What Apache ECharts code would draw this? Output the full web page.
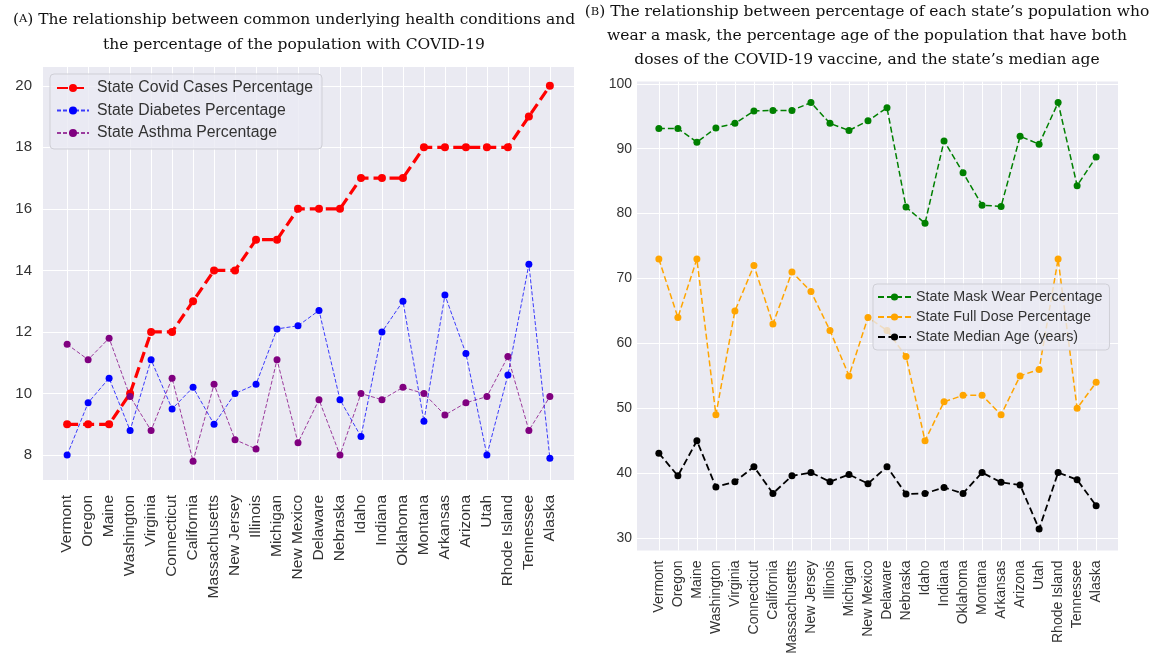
<!DOCTYPE html>
<html>
<head>
<meta charset="utf-8">
<script src="https://cdn.jsdelivr.net/npm/echarts@6/dist/echarts.min.js"></script>
<style>
  html, body { margin: 0; padding: 0; background: #fff; }
  #chart { width: 1154px; height: 668px; }
</style>
</head>
<body>
<div id="chart"></div>
<script>
// States, ordered by covid percentage
const states = ['Vermont', 'Oregon', 'Maine', 'Washington', 'Virginia', 'Connecticut', 'California',
    'Massachusetts', 'New Jersey', 'Illinois', 'Michigan', 'New Mexico', 'Delaware', 'Nebraska', 'Idaho',
    'Indiana', 'Oklahoma', 'Montana', 'Arkansas', 'Arizona', 'Utah', 'Rhode Island', 'Tennessee', 'Alaska'];

// Panel A
const covidPct = [9, 9, 9, 10, 12, 12, 13, 14, 14, 15, 15, 16, 16, 16, 17, 17, 17, 18, 18, 18, 18, 18, 19, 20];
const diabetesPct = [8.0, 9.7, 10.5, 8.8, 11.1, 9.5, 10.2, 9.0, 10.0, 10.3, 12.1, 12.2, 12.7, 9.8, 8.6, 12.0,
    13.0, 9.1, 13.2, 11.3, 8.0, 10.6, 14.2, 7.9];
const asthmaPct = [11.6, 11.1, 11.8, 9.9, 8.8, 10.5, 7.8, 10.3, 8.5, 8.2, 11.1, 8.4, 9.8, 8.0, 10.0, 9.8,
    10.2, 10.0, 9.3, 9.7, 9.9, 11.2, 8.8, 9.9];
const ticksA = [8, 10, 12, 14, 16, 18, 20];

// Panel B
const maskPct = [93.1, 93.1, 91.0, 93.2, 93.9, 95.8, 95.9, 95.9, 97.1, 93.9, 92.8, 94.3, 96.3, 81.0, 78.5,
    91.2, 86.3, 81.3, 81.1, 91.9, 90.7, 97.1, 84.3, 88.7];
const fullDosePct = [73, 64, 73, 49, 65, 72, 63, 71, 68, 62, 55, 64, 62, 58, 45, 51, 52, 52, 49, 55, 56, 73, 50, 54];
const medianAge = [43.1, 39.6, 45.0, 37.9, 38.7, 41.0, 36.9, 39.6, 40.1, 38.7, 39.8, 38.4, 41.0, 36.8, 36.9,
    37.8, 36.9, 40.1, 38.6, 38.2, 31.4, 40.1, 39.0, 35.0];
const ticksB = [30, 40, 50, 60, 70, 80, 90, 100];

const titleA = '({sc|A}) The relationship between common underlying health conditions and\nthe percentage of the population with COVID-19';
const titleB = '({sc|B}) The relationship between percentage of each state\u2019s population who\nwear a mask, the percentage age of the population that have both\ndoses of the COVID-19 vaccine, and the state\u2019s median age';

const stateIdx = states.map((s, i) => i);
const pairs = arr => arr.map((v, i) => [i, v]);

const SANS = '"Liberation Sans", Arial, sans-serif';
const SERIF = '"DejaVu Serif", serif';
const TXT = '#333';
const BG = '#EAEAF2';

function xAxisFor(gridIndex, fontSize, margin) {
    return {
        gridIndex, type: 'value', min: -1.15, max: 24.15,
        axisLine: { show: false },
        axisTick: { show: false, customValues: stateIdx },
        axisLabel: {
            customValues: stateIdx, rotate: 90, margin,
            color: TXT, fontFamily: SANS, fontSize,
            formatter: v => states[Math.round(v)],
        },
        splitLine: { show: true, lineStyle: { color: '#fff', width: 1 } },
    };
}

function yAxisFor(gridIndex, min, max, ticks, fontSize, margin) {
    return {
        gridIndex, type: 'value', min, max,
        axisLine: { show: false },
        axisTick: { show: false, customValues: ticks },
        axisLabel: { customValues: ticks, margin, color: TXT, fontFamily: SANS, fontSize },
        splitLine: { show: true, lineStyle: { color: '#fff', width: 1 } },
    };
}

function lineSeries(name, data, color, idx, width, dash, size, opacity) {
    return {
        name, type: 'line', xAxisIndex: idx, yAxisIndex: idx,
        data: pairs(data),
        symbol: 'circle', symbolSize: size, showSymbol: true,
        itemStyle: { color },
        lineStyle: { color, width, type: dash, opacity: opacity == null ? 1 : opacity },
        emphasis: { disabled: true },
        z: 3,
    };
}

const chart = echarts.init(document.getElementById('chart'), null, { renderer: 'canvas' });

chart.setOption({
    animation: false,
    backgroundColor: '#fff',
    grid: [
        { left: 43, top: 67, width: 531, height: 413, show: true, backgroundColor: BG, borderWidth: 0 },
        { left: 637, top: 81.5, width: 481, height: 469, show: true, backgroundColor: BG, borderWidth: 0 },
    ],
    xAxis: [xAxisFor(0, 15.5, 15), xAxisFor(1, 14, 10)],
    yAxis: [yAxisFor(0, 7.19, 20.61, ticksA, 15, 11), yAxisFor(1, 28.1, 100.35, ticksB, 14, 5)],
    legend: [
        {
            left: 50, top: 74, orient: 'vertical',
            data: ['State Covid Cases Percentage', 'State Diabetes Percentage', 'State Asthma Percentage'],
            itemWidth: 32, itemHeight: 10, itemGap: 6.5,
            padding: [6, 9, 8, 6],
            backgroundColor: 'rgba(234,234,242,0.8)', borderColor: '#cfcfd6', borderWidth: 1, borderRadius: 4,
            textStyle: { color: TXT, fontFamily: SANS, fontSize: 15.8, lineHeight: 14, padding: [0, 0, 0, 3] },
        },
        {
            left: 873, top: 284, orient: 'vertical',
            data: ['State Mask Wear Percentage', 'State Full Dose Percentage', 'State Median Age (years)'],
            itemWidth: 33, itemHeight: 9, itemGap: 6,
            padding: [6, 7, 6, 4],
            backgroundColor: 'rgba(234,234,242,0.8)', borderColor: '#cfcfd6', borderWidth: 1, borderRadius: 4,
            textStyle: { color: TXT, fontFamily: SANS, fontSize: 14.3, lineHeight: 12, padding: [0, 0, 0, 0] },
        },
    ],
    graphic: [
        {
            type: 'text', x: 294, y: 7, z: 10,
            style: {
                text: titleA, x: 0, y: 0, align: 'center', textAlign: 'center',
                verticalAlign: 'top', textVerticalAlign: 'top',
                font: '15.5px ' + SERIF, fill: '#111', lineHeight: 25,
                rich: { sc: { fontSize: 11.5, fontFamily: SERIF, fill: '#111' } },
            },
        },
        {
            type: 'text', x: 867, y: 0, z: 10,
            style: {
                text: titleB, x: 0, y: 0, align: 'center', textAlign: 'center',
                verticalAlign: 'top', textVerticalAlign: 'top',
                font: '15.5px ' + SERIF, fill: '#111', lineHeight: 24,
                rich: { sc: { fontSize: 11.5, fontFamily: SERIF, fill: '#111' } },
            },
        },
    ],
    series: [
        lineSeries('State Covid Cases Percentage', covidPct, '#ff0000', 0, 3.2, [11, 5], 8),
        lineSeries('State Diabetes Percentage', diabetesPct, '#0000ff', 0, 1, [4, 2], 7, 0.75),
        lineSeries('State Asthma Percentage', asthmaPct, '#800080', 0, 1, [4, 2], 7, 0.75),
        lineSeries('State Mask Wear Percentage', maskPct, '#008000', 1, 1.5, [6, 3], 7),
        lineSeries('State Full Dose Percentage', fullDosePct, '#ffa500', 1, 1.5, [6, 3], 7),
        lineSeries('State Median Age (years)', medianAge, '#000000', 1, 1.8, [7, 3.5], 7),
    ],
});
</script>
</body>
</html>
